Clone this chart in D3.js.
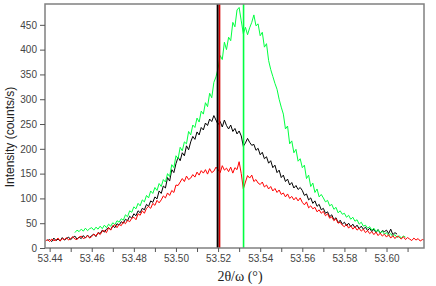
<!DOCTYPE html>
<html>
<head>
<meta charset="utf-8">
<script src="https://cdn.jsdelivr.net/npm/d3@7"></script>
<style>
body { margin: 0; background: #fff; }
svg { display: block; }
</style>
</head>
<body>
<div id="chart"></div>
<script>
// scan step in 2theta/omega and where each scan starts
var step = 0.001;
var redStart = 53.438, blackStart = 53.439, greenStart = 53.452;

var red = [
    14,17,13,18,15,16,20,14,19,17,
    21,16,19,23,18,17,22,24,19,21,
    25,20,23,28,24,31,27,34,35,31,
    41,36,44,47,41,48,45,53,49,56,
    53,60,62,57,69,66,75,70,80,84,
    80,90,86,96,91,97,105,101,111,106,
    116,112,127,126,133,140,134,145,138,141,
    148,143,153,147,156,151,158,149,160,152,
    155,163,158,152,166,157,161,154,163,151,
    162,158,174,150,119,133,146,141,147,134,
    138,131,128,133,123,127,119,124,115,120,
    112,117,108,111,103,109,100,104,97,102,
    95,101,92,87,93,81,85,79,82,73,
    77,70,74,65,69,60,63,55,59,50,
    52,46,43,48,40,45,38,43,36,40,
    34,38,31,35,29,33,27,32,25,30,
    24,28,22,27,20,25,19,24,22,18,
    23,17,21,18,15,20,16,19,14,17,
    16
];

var black = [
    15,
    17,13,20,15,18,14,21,16,19,22,
    17,21,24,18,22,19,25,20,26,21,
    25,28,23,31,29,36,32,38,41,37,
    45,41,49,46,53,50,58,55,64,60,
    69,65,75,71,80,77,88,84,95,92,
    103,99,115,110,125,121,142,135,158,152,
    170,183,176,192,186,206,198,214,225,219,
    234,228,243,238,252,247,260,255,267,258,
    249,255,244,258,247,240,248,235,241,230,
    236,226,205,212,221,213,207,209,197,201,
    188,193,180,184,171,176,162,167,152,157,
    142,147,134,139,127,132,121,126,118,122,
    116,106,109,97,101,90,95,84,88,77,
    80,70,73,63,67,57,61,51,56,48,
    52,45,50,43,48,41,46,39,44,38,
    42,35,40,33,38,31,37,30,35,33,
    36,29,38,27,31,28
];

var green = [
    31,36,33,38,34,40,35,39,
    41,36,42,38,44,39,46,41,48,44,
    51,47,55,52,59,56,67,63,75,72,
    83,79,90,85,97,93,106,101,115,110,
    122,116,130,124,138,133,150,144,168,162,
    186,180,203,196,214,210,235,228,248,243,
    262,254,276,270,293,285,312,303,334,345,
    362,388,380,415,400,425,418,455,446,480,
    485,458,432,445,430,444,455,470,448,452,
    428,435,405,412,378,360,346,332,320,300,
    284,270,240,246,210,216,192,199,175,180,
    162,167,140,147,124,131,112,119,103,108,
    101,93,96,85,88,78,82,71,75,68,
    70,62,66,58,62,54,57,48,52,44,
    46,40,43,36,40,33,37,30,34,28,
    31,25,29,23,27,21,25,20,24,22
];

// peak position markers
var markerPos = [53.5198, 53.5207, 53.5321];
var markerColors = ["#000000", "#d40000", "#00ff40"];

var xTicks = [53.44, 53.46, 53.48, 53.50, 53.52, 53.54, 53.56, 53.58, 53.60];
var xMinor = [53.45, 53.47, 53.49, 53.51, 53.53, 53.55, 53.57, 53.59, 53.61];
var yTicks = [0, 50, 100, 150, 200, 250, 300, 350, 400, 450];

var width = 436, height = 286;
var plotL = 45, plotR = 424, plotT = 4, plotB = 248;

var svg = d3.select("#chart").append("svg")
    .attr("width", width)
    .attr("height", height);

var x = d3.scaleLinear().domain([53.4378, 53.6178]).range([plotL, plotR]);
var y = d3.scaleLinear().domain([0, 492]).range([plotB, plotT]);

svg.append("clipPath").attr("id", "plot")
    .append("rect")
    .attr("x", plotL).attr("y", plotT)
    .attr("width", plotR - plotL).attr("height", plotB - plotT);

function toPoints(vals, start) {
    return vals.map(function (v, i) { return [start + i * step, v]; });
}

var line = d3.line()
    .x(function (d) { return x(d[0]); })
    .y(function (d) { return y(d[1]); });

var series = [
    {pts: toPoints(black, blackStart), color: "#000000"},
    {pts: toPoints(green, greenStart), color: "#00ff40"},
    {pts: toPoints(red, redStart), color: "#ff0000"}
];

var g = svg.append("g").attr("clip-path", "url(#plot)");

g.selectAll("path.scan")
    .data(series)
    .enter().append("path")
    .attr("class", "scan")
    .attr("d", function (d) { return line(d.pts); })
    .attr("fill", "none")
    .attr("stroke", function (d) { return d.color; })
    .attr("stroke-width", 1);

g.selectAll("line.marker")
    .data(markerPos)
    .enter().append("line")
    .attr("class", "marker")
    .attr("x1", function (d) { return x(d); })
    .attr("x2", function (d) { return x(d); })
    .attr("y1", plotT)
    .attr("y2", plotB)
    .attr("stroke", function (d, i) { return markerColors[i]; })
    .attr("stroke-width", function (d, i) { return i == 0 ? 2 : 1.6; });

// frame
svg.append("rect")
    .attr("x", plotL).attr("y", plotT)
    .attr("width", plotR - plotL).attr("height", plotB - plotT)
    .attr("fill", "none")
    .attr("stroke", "#808080")
    .attr("stroke-width", 1.5);

svg.append("g")
    .attr("transform", "translate(" + plotL + ",0)")
    .call(d3.axisLeft(y).tickValues(yTicks).tickSize(5).tickPadding(3));

svg.append("g")
    .attr("transform", "translate(0," + plotB + ")")
    .call(d3.axisBottom(x).tickValues(xTicks).tickFormat(d3.format(".2f")).tickSize(4).tickPadding(3));

svg.append("g")
    .attr("transform", "translate(0," + plotB + ")")
    .call(d3.axisBottom(x).tickValues(xMinor).tickFormat("").tickSize(4));

svg.selectAll(".domain").remove();
svg.selectAll(".tick line").attr("stroke", "#555");
svg.selectAll(".tick text")
    .attr("fill", "#444")
    .style("font-family", "Liberation Sans, Arial, sans-serif")
    .style("font-size", "10px");

svg.append("text")
    .attr("transform", "translate(14,137) rotate(-90)")
    .attr("text-anchor", "middle")
    .style("font-family", "Liberation Sans, Arial, sans-serif")
    .style("font-size", "12px")
    .attr("fill", "#222")
    .text("Intensity (counts/s)");

svg.append("text")
    .attr("x", 240)
    .attr("y", 281)
    .attr("text-anchor", "middle")
    .style("font-family", "Liberation Serif, Times New Roman, serif")
    .style("font-size", "14px")
    .attr("fill", "#222")
    .text("2θ/ω (°)");
</script>
</body>
</html>
